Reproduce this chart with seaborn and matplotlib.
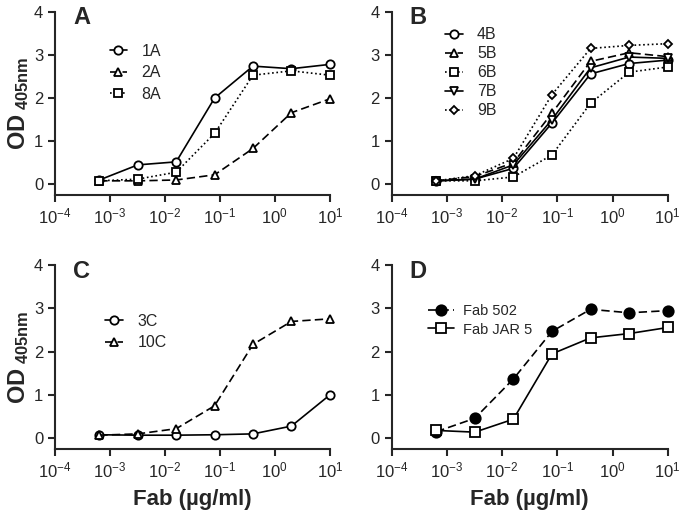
import numpy as np
import pandas as pd
import matplotlib
matplotlib.use('Agg')
import matplotlib.pyplot as plt
import seaborn as sns

sns.set_style('ticks')
plt.rcParams['font.family'] = ['Liberation Sans', 'DejaVu Sans']
plt.rcParams['mathtext.fontset'] = 'custom'
plt.rcParams['mathtext.rm'] = 'Liberation Sans'
plt.rcParams['mathtext.it'] = 'Liberation Sans:italic'
plt.rcParams['mathtext.bf'] = 'Liberation Sans:bold'

# Fab concentration (ug/ml), 5-fold dilutions
conc = [0.00064, 0.0032, 0.016, 0.08, 0.4, 2, 10]

# panel A
od_1A = [0.10, 0.45, 0.52, 2.00, 2.74, 2.68, 2.78]
od_2A = [0.08, 0.08, 0.10, 0.22, 0.83, 1.66, 1.98]
od_8A = [0.08, 0.12, 0.28, 1.18, 2.53, 2.63, 2.53]
# panel B
od_4B = [0.08, 0.12, 0.37, 1.42, 2.56, 2.80, 2.88]
od_5B = [0.08, 0.18, 0.50, 1.65, 2.85, 3.05, 2.96]
od_6B = [0.08, 0.08, 0.17, 0.68, 1.88, 2.60, 2.72]
od_7B = [0.08, 0.12, 0.45, 1.50, 2.70, 2.95, 2.92]
od_9B = [0.08, 0.20, 0.60, 2.08, 3.15, 3.22, 3.26]
# panel C
od_3C = [0.08, 0.07, 0.07, 0.08, 0.10, 0.28, 1.00]
od_10C = [0.07, 0.10, 0.22, 0.75, 2.17, 2.70, 2.76]
# panel D
od_502 = [0.15, 0.46, 1.37, 2.47, 2.98, 2.90, 2.95]
od_jar5 = [0.18, 0.14, 0.44, 1.95, 2.32, 2.42, 2.56]

dash = (0, (5, 2.5))
dot = (0, (1, 1.6))

# (label, values, marker, linestyle, filled, markersize)
panels = {
    'A': [('1A', od_1A, 'o', '-', False, 6),
          ('2A', od_2A, '^', dash, False, 5.5),
          ('8A', od_8A, 's', dot, False, 5.5)],
    'B': [('4B', od_4B, 'o', '-', False, 6),
          ('5B', od_5B, '^', dash, False, 5.5),
          ('6B', od_6B, 's', dot, False, 5.5),
          ('7B', od_7B, 'v', '-', False, 5.5),
          ('9B', od_9B, 'D', dot, False, 4.5)],
    'C': [('3C', od_3C, 'o', '-', False, 6),
          ('10C', od_10C, '^', dash, False, 5.5)],
    'D': [('Fab 502', od_502, 'o', dash, True, 7.5),
          ('Fab JAR 5', od_jar5, 's', '-', False, 7)],
}

fig = plt.figure(figsize=(6.8, 5.12), dpi=100)
boxes = {
    'A': [0.081, 0.619, 0.404, 0.358],
    'B': [0.576, 0.619, 0.406, 0.358],
    'C': [0.081, 0.123, 0.404, 0.359],
    'D': [0.576, 0.123, 0.406, 0.359],
}
# legend anchor, font size, row spacing, handle length, text pad
legs = {
    'A': ((0.175, 0.86), 11.5, 0.4, 1.1, 0.9),
    'B': ((0.17, 0.95), 11.5, 0.25, 1.1, 0.9),
    'C': ((0.16, 0.77), 11.5, 0.4, 1.1, 0.9),
    'D': ((0.11, 0.82), 10.5, 0.3, 1.8, 0.6),
}

for name, series in panels.items():
    ax = fig.add_axes(boxes[name])
    for lab, vals, mk, ls, filled, ms in series:
        df = pd.DataFrame({'conc': conc, 'od': vals})
        sns.lineplot(data=df, x='conc', y='od', ax=ax, color='black',
                     marker=mk, linestyle=ls, linewidth=1.2,
                     markersize=ms, markeredgewidth=1.3,
                     markerfacecolor='black' if filled else 'white',
                     markeredgecolor='black', label=lab, clip_on=False,
                     zorder=3)
    ax.set_xscale('log')
    ax.set_xlim(1e-4, 10)
    ax.set_ylim(-0.25, 4)
    ax.set_xticks([1e-4, 1e-3, 1e-2, 1e-1, 1, 10])
    ax.xaxis.set_minor_locator(matplotlib.ticker.NullLocator())
    ax.set_yticks([0, 1, 2, 3, 4])
    ax.tick_params(labelsize=12, length=5, width=1.5, direction='out')
    for s in ['left', 'bottom']:
        ax.spines[s].set_linewidth(1.5)
    sns.despine(ax=ax)
    ax.set_xlabel('')
    ax.set_ylabel('')
    if name in ('A', 'C'):
        ax.set_ylabel(r'$\mathbf{OD}_{\ \mathbf{405nm}}$', fontsize=17, labelpad=2)
    if name in ('C', 'D'):
        ax.set_xlabel('Fab (µg/ml)', fontsize=16, fontweight='bold', labelpad=6)
    ax.text(0.065, 1.03, name, transform=ax.transAxes, fontsize=17,
            fontweight='bold', va='top', ha='left')
    anchor, fs, sp, hl, tp = legs[name]
    ax.legend(loc='upper left', bbox_to_anchor=anchor, frameon=False,
              fontsize=fs, handlelength=hl, handletextpad=tp,
              labelspacing=sp, borderaxespad=0, markerscale=1.0)

fig.savefig('out.png', dpi=100)
